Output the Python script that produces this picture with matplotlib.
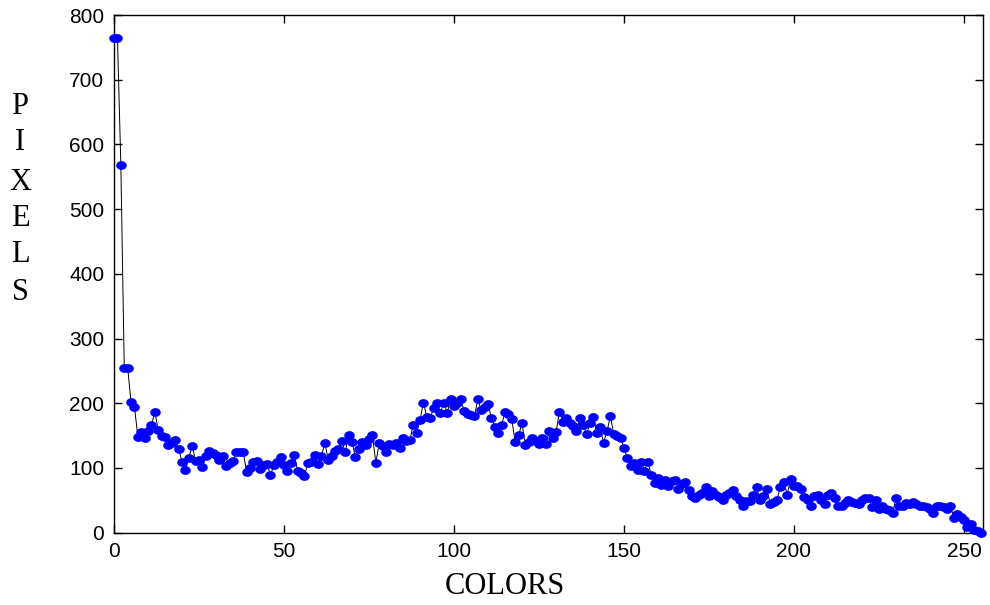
## HISTOGRAM PLOT / PIXELS PER COLOR
import numpy as np
import matplotlib
matplotlib.use("Agg")
import matplotlib.pyplot as plt

# DATA
colors = np.arange(256)
pixels = [765, 765, 568, 255, 255, 202, 195, 148, 155, 146,
          157, 166, 187, 158, 149, 148, 135, 138, 143, 130,
          109, 97, 116, 134, 111, 112, 101, 118, 126, 123,
          120, 113, 118, 103, 108, 111, 124, 124, 124, 94,
          100, 109, 111, 99, 104, 106, 89, 104, 110, 117,
          104, 95, 108, 120, 96, 92, 87, 108, 110, 120,
          106, 118, 139, 113, 118, 126, 130, 141, 125, 151,
          140, 117, 129, 140, 136, 145, 151, 108, 139, 134,
          125, 137, 136, 138, 131, 147, 141, 143, 166, 154,
          174, 201, 179, 178, 192, 200, 185, 201, 185, 207,
          196, 200, 206, 188, 184, 182, 180, 206, 189, 195,
          199, 178, 163, 154, 166, 187, 183, 175, 140, 151,
          169, 135, 140, 147, 142, 137, 147, 137, 157, 146,
          155, 187, 171, 178, 169, 165, 157, 178, 166, 153,
          169, 179, 154, 163, 139, 157, 180, 152, 149, 147,
          131, 115, 103, 108, 97, 110, 96, 110, 89, 77,
          84, 73, 82, 72, 80, 82, 67, 75, 79, 66,
          56, 53, 58, 62, 71, 56, 64, 58, 55, 50,
          58, 62, 66, 56, 50, 41, 49, 49, 58, 71,
          50, 56, 68, 45, 48, 51, 71, 79, 59, 83,
          72, 72, 68, 55, 50, 42, 56, 58, 50, 45,
          59, 62, 53, 42, 41, 46, 50, 48, 46, 44,
          50, 53, 53, 40, 50, 37, 42, 36, 35, 31,
          53, 42, 41, 46, 45, 48, 44, 42, 41, 40,
          37, 31, 41, 42, 40, 36, 42, 23, 29, 25,
          19, 9, 14, 4, 2, 0]
xticks = [0, 50, 100, 150, 200, 250]
yticks = [0, 100, 200, 300, 400, 500, 600, 700, 800]

# ELLIPTIC MARKER (stretched circle like the original)
t = np.linspace(0, 2 * np.pi, 40)
ellipse = np.column_stack([np.cos(t), 0.8 * np.sin(t)])

fig = plt.figure(figsize=(9.9, 6.05), dpi=100)
ax = fig.add_axes([0.1152, 0.1195, 0.8774, 0.8557])

ax.plot(colors, pixels, color="black", linewidth=0.7, zorder=2)
ax.plot(colors, pixels, linestyle="none", marker=ellipse, markersize=6.6,
        markerfacecolor="#0000ff", markeredgecolor="#0000ff", zorder=3,
        clip_on=False)

ax.set_xlim(0, 255.5)
ax.set_ylim(0, 800)
ax.set_xticks(xticks)
ax.set_yticks(yticks)

ax.tick_params(direction="in", length=6, width=1, top=True, right=True,
               labelsize=15, pad=7)
for lab in ax.get_xticklabels() + ax.get_yticklabels():
    lab.set_fontfamily("Liberation Sans")
for sp in ax.spines.values():
    sp.set_linewidth(1.0)

# AXIS LABELS (Times style, vertical letters)
fig.text(0.51, 0.030, "COLORS", ha="center", va="center",
         fontsize=22, family="Liberation Serif")
ly = [107, 143, 182, 218, 255, 292]
for letter, yp in zip("PIXELS", ly):
    fig.text(20 / 990, 1 - yp / 605, letter, ha="center", va="center",
             fontsize=22, family="Liberation Serif")

plt.savefig("out.png", dpi=100)
